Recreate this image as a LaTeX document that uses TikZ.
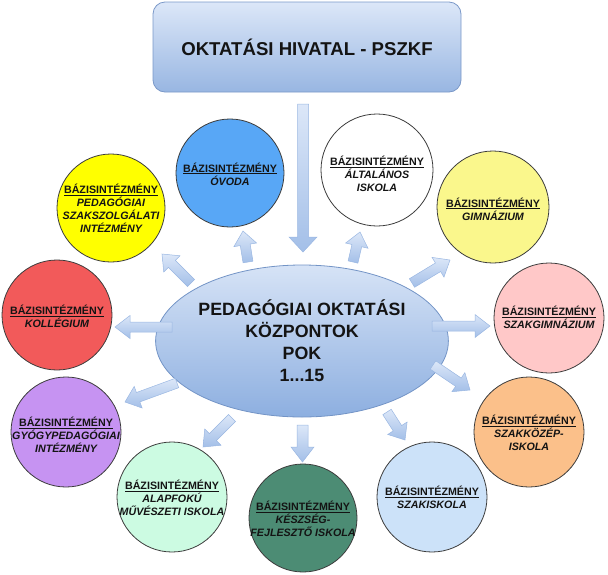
\documentclass[tikz,border=0pt]{standalone}
\usepackage{fontspec}
\setmainfont{Liberation Sans}
\usetikzlibrary{calc,shapes.geometric}
\definecolor{boxtop}{HTML}{DCE7F8}
\definecolor{boxbot}{HTML}{98B6E2}
\definecolor{boxedge}{HTML}{7A98C8}
\definecolor{elltop}{HTML}{D6E3F6}
\definecolor{ellbot}{HTML}{8DAFE0}
\definecolor{elledge}{HTML}{7394C6}
\definecolor{arrlight}{HTML}{DCE7F8}
\definecolor{arrdark}{HTML}{A3BFE8}
\definecolor{arredge}{HTML}{9AB7E2}
\definecolor{cyellow}{HTML}{FFFF00}
\definecolor{cblue}{HTML}{58A7F6}
\definecolor{cred}{HTML}{F25A5A}
\definecolor{cwhite}{HTML}{FFFFFF}
\definecolor{cpale}{HTML}{FAF78C}
\definecolor{cpink}{HTML}{FFC8C8}
\definecolor{corange}{HTML}{FBC08A}
\definecolor{clblue}{HTML}{CCE2F9}
\definecolor{cteal}{HTML}{4C8C74}
\definecolor{cmint}{HTML}{CCFBE2}
\definecolor{cpurple}{HTML}{C693F2}
\definecolor{cedge}{HTML}{3C3C3C}
\newcommand{\blockarr}[5]{%
  \coordinate (bam) at ($(#2)!#5!(#1)$);
  \path[arrsty] ($(#1)!#3!90:(#2)$) -- ($(bam)!#3!90:(#2)$) -- ($(bam)!#4!90:(#2)$)
    -- (#2) -- ($(bam)!#4!-90:(#2)$) -- ($(bam)!#3!-90:(#2)$) -- ($(#1)!#3!-90:(#2)$) -- cycle;}
\tikzset{
  arrsty/.style={draw=arredge, line width=0.5pt, top color=arrlight, bottom color=arrdark},
  circ/.style={circle, draw=cedge, line width=0.8pt, inner sep=0pt},
  ctext/.style={font=\fontsize{10.7}{13}\selectfont\bfseries, align=center, text=black!92, inner sep=0pt},
}
\newcommand{\bazis}{\underline{BÁZISINTÉZMÉNY}}
\begin{document}
\begin{tikzpicture}[x=1pt,y=-1pt]
\useasboundingbox (0,0) rectangle (608,574);
% top box
\node[rectangle, rounded corners=12pt, minimum width=308pt, minimum height=90pt,
  draw=boxedge, line width=0.8pt, top color=boxtop, bottom color=boxbot,
  font=\fontsize{18.6}{22}\selectfont\bfseries, text=black!92] (hiv) at (307,47) {OKTATÁSI HIVATAL - PSZKF};
% central ellipse
\node[ellipse, minimum width=248pt, minimum height=152pt, inner sep=0pt,
  draw=elledge, line width=0.8pt, top color=elltop, bottom color=ellbot,
  font=\fontsize{17.8}{22}\selectfont\bfseries, align=center, text=black!92] (pok) at (302,341)
  {PEDAGÓGIAI OKTATÁSI\\KÖZPONTOK\\POK\\1...15};
% circles
\node[circ, fill=cyellow, minimum size=108pt] (pedszak) at (111,208) {};
\node[circ, fill=cblue, minimum size=108pt] (ovoda) at (230,173) {};
\node[circ, fill=cred, minimum size=110pt] (koll) at (57,315) {};
\node[circ, fill=cwhite, minimum size=112pt] (altal) at (377,170) {};
\node[circ, fill=cpale, minimum size=112pt] (gimn) at (493,207) {};
\node[circ, fill=cpink, minimum size=110pt] (szakgimn) at (549,318) {};
\node[circ, fill=corange, minimum size=110pt] (szakkoz) at (529,432) {};
\node[circ, fill=clblue, minimum size=110pt] (szakisk) at (432,497) {};
\node[circ, fill=cteal, minimum size=108pt] (keszseg) at (303,518) {};
\node[circ, fill=cmint, minimum size=110pt] (alapf) at (172,497) {};
\node[circ, fill=cpurple, minimum size=110pt] (gyogy) at (66,432) {};
% circle texts
\node[ctext] (pedszak-t) at (111,208) {\bazis\\\itshape PEDAGÓGIAI\\\itshape SZAKSZOLGÁLATI\\\itshape INTÉZMÉNY};
\node[ctext] (ovoda-t) at (230,174) {\bazis\\\itshape ÓVODA};
\node[ctext] (koll-t) at (57,316) {\bazis\\\itshape KOLLÉGIUM};
\node[ctext] (altal-t) at (377,174) {\bazis\\\itshape ÁLTALÁNOS\\\itshape ISKOLA};
\node[ctext] (gimn-t) at (493,209) {\bazis\\\itshape GIMNÁZIUM};
\node[ctext] (szakgimn-t) at (549,317) {\bazis\\\itshape SZAKGIMNÁZIUM};
\node[ctext] (szakkoz-t) at (529,433) {\bazis\\\itshape SZAKKÖZÉP-\\\itshape ISKOLA};
\node[ctext] (szakisk-t) at (432,497) {\bazis\\\itshape SZAKISKOLA};
\node[ctext] (keszseg-t) at (303,519) {\bazis\\\itshape KÉSZSÉG-\\\itshape FEJLESZTŐ ISKOLA};
\node[ctext] (alapf-t) at (172,498) {\bazis\\\itshape ALAPFOKÚ\\\itshape MŰVÉSZETI ISKOLA};
\node[ctext] (gyogy-t) at (66,435) {\bazis\\\itshape GYÓGYPEDAGÓGIAI\\\itshape INTÉZMÉNY};
% arrow end points
\coordinate (t0) at (303,104); \coordinate (h0) at (303,252);
\coordinate (t1) at (248,262); \coordinate (h1) at (243,231);
\coordinate (t2) at (353,262); \coordinate (h2) at (360,232);
\coordinate (t3) at (412,283); \coordinate (h3) at (450,260);
\coordinate (t4) at (432,326); \coordinate (h4) at (490,326);
\coordinate (t5) at (433,365); \coordinate (h5) at (470,390);
\coordinate (t6) at (387,412); \coordinate (h6) at (405,440);
\coordinate (t7) at (302.5,425); \coordinate (h7) at (302.5,462);
\coordinate (t8) at (232,418); \coordinate (h8) at (203,447);
\coordinate (t9) at (177,383); \coordinate (h9) at (125,402);
\coordinate (t10) at (172,327); \coordinate (h10) at (115,327);
\coordinate (t11) at (191,283); \coordinate (h11) at (162,254);
% arrows
\blockarr{t0}{h0}{5.5pt}{14pt}{15pt}
\blockarr{t1}{h1}{5pt}{11.5pt}{14pt}
\blockarr{t2}{h2}{5pt}{11.5pt}{14pt}
\blockarr{t3}{h3}{5pt}{11.5pt}{14pt}
\blockarr{t4}{h4}{5pt}{11.5pt}{15pt}
\blockarr{t5}{h5}{5pt}{11.5pt}{14pt}
\blockarr{t6}{h6}{5pt}{11.5pt}{14pt}
\blockarr{t7}{h7}{5.5pt}{11.5pt}{15pt}
\blockarr{t8}{h8}{5pt}{11.5pt}{14pt}
\blockarr{t9}{h9}{5pt}{11.5pt}{14pt}
\blockarr{t10}{h10}{5pt}{11.5pt}{15pt}
\blockarr{t11}{h11}{5pt}{11.5pt}{14pt}
\end{tikzpicture}
\end{document}
